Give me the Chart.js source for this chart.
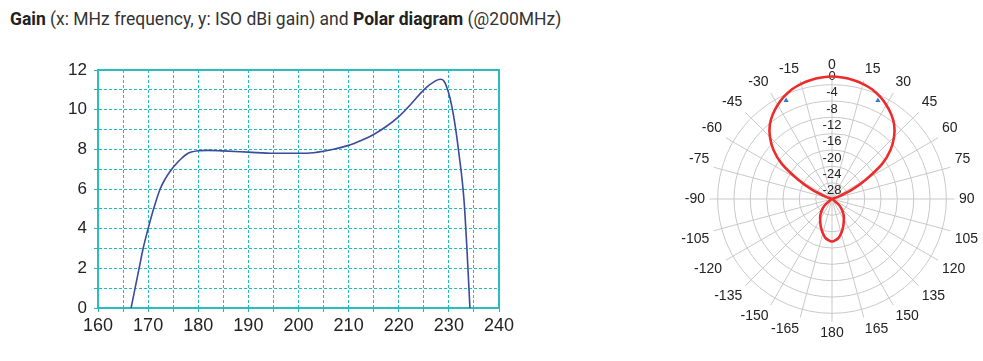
<!DOCTYPE html>
<html>
<head>
<meta charset="utf-8">
<script src="https://cdn.jsdelivr.net/npm/chart.js@4.4.1/dist/chart.umd.min.js"></script>
<style>
  html, body { margin:0; padding:0; background:#fff; width:983px; height:361px; overflow:hidden; }
  #title { position:absolute; left:10px; top:9px; font-family:Roboto, sans-serif; font-size:17.5px; color:#333; white-space:nowrap; }
  #title b { font-weight:700; color:#222; }
  #gainBox { position:absolute; left:0px; top:50px; width:540px; height:300px; }
  #polarBox { position:absolute; left:677px; top:58px; width:306px; height:283px; }
</style>
</head>
<body>
<div id="title"><b>Gain</b> (x: MHz frequency, y: ISO dBi gain) and <b>Polar diagram</b> (@200MHz)</div>
<div id="gainBox"><canvas id="gain"></canvas></div>
<div id="polarBox"><canvas id="polar"></canvas></div>
<script>
// ---- Gain curve (MHz vs dBi) ----
const gainFreq = [166.6,167.4,168.2,169.0,170.0,171.1,172.4,173.5,174.7,175.7,176.7,177.6,178.6,180.0,182.0,185.0,190.0,195.0,200.0,203.0,205.0,207.0,210.0,212.5,215.0,217.5,220.0,222.5,225.0,227.0,228.3,229.0,230.0,231.0,232.0,233.0,233.6,234.2];
const gainDbi  = [0,1,2,3,4,5,6,6.55,7,7.3,7.55,7.74,7.86,7.93,7.95,7.92,7.86,7.8,7.8,7.83,7.9,8.0,8.2,8.45,8.75,9.15,9.65,10.3,11.0,11.4,11.53,11.45,10.8,9.6,7.8,5.5,3.0,0];
const freqTicks = [160,170,180,190,200,210,220,230,240];
const gainTicks = [0,2,4,6,8,10,12];

// ---- Polar diagram (@200MHz), degrees vs dB ----
const polarAngles = [0,5,10,15,20,25,30,35,40,45,50,55,60,65,70,75,80,85,90,95,100,105,110,115,120,125,130,135,140,145,150,155,160,165,170,175,180,
  -175,-170,-165,-160,-155,-150,-145,-140,-135,-130,-125,-120,-115,-110,-105,-100,-95,-90,-85,-80,-75,-70,-65,-60,-55,-50,-45,-40,-35,-30,-25,-20,-15,-10,-5];
const polarDb = [0,-0.15,-0.4,-0.8,-1.4,-2.3,-3.4,-4.7,-6.3,-8.5,-11.3,-15,-20.3,-24.6,-28.3,-30,-30,-30,-30,-30,-30,-30,-30,-30,-30,-29.3,-28,-26.8,-25.9,-25,-24.2,-23.3,-22.3,-21.3,-20.4,-19.9,-19.6,
  -19.9,-20.4,-21.3,-22.3,-23.3,-24.2,-25,-25.9,-26.8,-28,-29.3,-30,-30,-30,-30,-30,-30,-30,-30,-30,-30,-28.3,-24.6,-20.3,-15,-11.3,-8.5,-6.3,-4.7,-3.4,-2.3,-1.4,-0.8,-0.4,-0.15];
const beamAngles = [25,-25];      // -3 dB beamwidth markers
const beamDb = [-3.4,-3.4];
const polarLabelAngles = [0,15,30,45,60,75,90,105,120,135,150,165,180,-165,-150,-135,-120,-105,-90,-75,-60,-45,-30,-15];
const polarRingLabels = [0,-4,-8,-12,-16,-20,-24,-28];

Chart.defaults.font.family = 'Liberation Sans, Arial, sans-serif';
Chart.defaults.font.size = 13;

const TEAL = '#22bcbc';
const TEAL_B = '#2cbcbc';
const txt = '#222';

new Chart(document.getElementById('gain'), {
  type: 'line',
  data: {
    datasets: [{
      data: gainFreq.map((f, i) => ({x: f, y: gainDbi[i]})),
      borderColor: '#3a4a9c',
      borderWidth: 1.6,
      pointRadius: 0,
      fill: false,
      cubicInterpolationMode: 'monotone'
    }]
  },
  options: {
    responsive: true, maintainAspectRatio: false, animation: false,
    layout: { padding: { top: 20, right: 41, bottom: 0, left: 0 } },
    plugins: { legend: { display: false }, tooltip: { enabled: false } },
    scales: {
      x: {
        type: 'linear', min: 160, max: 240,
        grid: { color: TEAL, lineWidth: 1, tickLength: 4, tickColor: TEAL },
        border: { color: TEAL_B, width: 2, dash: [3, 2] },
        ticks: { stepSize: 5, autoSkip: false, maxRotation: 0, padding: 3, color: txt,
          font: { family: 'Liberation Sans, Arial', size: 18 },
          callback: v => freqTicks.includes(v) ? String(v) : '' },
        afterFit: s => { s.height = 42; }
      },
      xTop: {
        type: 'linear', position: 'top', min: 160, max: 240,
        grid: { display: false, drawTicks: false },
        border: { color: TEAL_B, width: 2 },
        ticks: { display: false },
        afterFit: s => { s.height = 0; }
      },
      y: {
        min: 0, max: 12,
        grid: { color: TEAL, lineWidth: 1, tickLength: 4, tickColor: TEAL },
        border: { color: TEAL_B, width: 2, dash: [3, 2] },
        ticks: { stepSize: 1, autoSkip: false, padding: 7, color: txt,
          font: { family: 'Liberation Sans, Arial', size: 17 },
          callback: v => gainTicks.includes(v) ? String(v) : '' },
        afterFit: s => { s.width = 98; }
      },
      yRight: {
        position: 'right', min: 0, max: 12,
        grid: { display: false, drawTicks: false },
        border: { color: TEAL_B, width: 2 },
        ticks: { display: false },
        afterFit: s => { s.width = 0; }
      }
    }
  }
});

// ring (dB) tick labels placed with the radial scale's own value->distance mapping
const ringLabelPlugin = {
  id: 'ringLabels',
  beforeDatasetsDraw(chart) {
    const r = chart.scales.r;
    const ctx = chart.ctx;
    ctx.save();
    ctx.font = '13px "Liberation Sans", Arial, sans-serif';
    ctx.fillStyle = txt;
    ctx.textAlign = 'center';
    ctx.textBaseline = 'middle';
    polarRingLabels.forEach(v => {
      ctx.fillText(String(v), r.xCenter, r.yCenter - r.getDistanceFromCenterForValue(v));
    });
    ctx.restore();
  }
};

new Chart(document.getElementById('polar'), {
  type: 'radar',
  plugins: [ringLabelPlugin],
  data: {
    labels: polarAngles,
    datasets: [{
      data: polarDb,
      borderColor: '#ee2b2b',
      borderWidth: 2.6,
      pointRadius: 0,
      fill: false,
      tension: 0.3
    }, {
      data: polarAngles.map(a => { const k = beamAngles.indexOf(a); return k >= 0 ? beamDb[k] : null; }),
      showLine: false,
      pointStyle: 'triangle',
      pointRadius: 3,
      pointBackgroundColor: '#2a7fd0',
      pointBorderColor: '#2a7fd0',
      pointBorderWidth: 0
    }]
  },
  options: {
    responsive: true, maintainAspectRatio: false, animation: false,
    plugins: { legend: { display: false }, tooltip: { enabled: false } },
    scales: {
      r: {
        min: -30, max: 0,
        grid: { circular: true, color: '#c9c9c9', lineWidth: 1 },
        angleLines: { color: ctx => polarLabelAngles.includes(polarAngles[ctx.index]) ? '#c9c9c9' : 'rgba(0,0,0,0)', lineWidth: 1 },
        pointLabels: { color: txt, padding: -2, font: { family: 'Liberation Sans, Arial', size: 14, lineHeight: 1 },
          callback: (l) => polarLabelAngles.includes(l) ? String(l) : '' },
        ticks: { stepSize: 2, showLabelBackdrop: false, backdropPadding: 0, color: txt,
          callback: () => '' }
      }
    }
  }
});
</script>
</body>
</html>
